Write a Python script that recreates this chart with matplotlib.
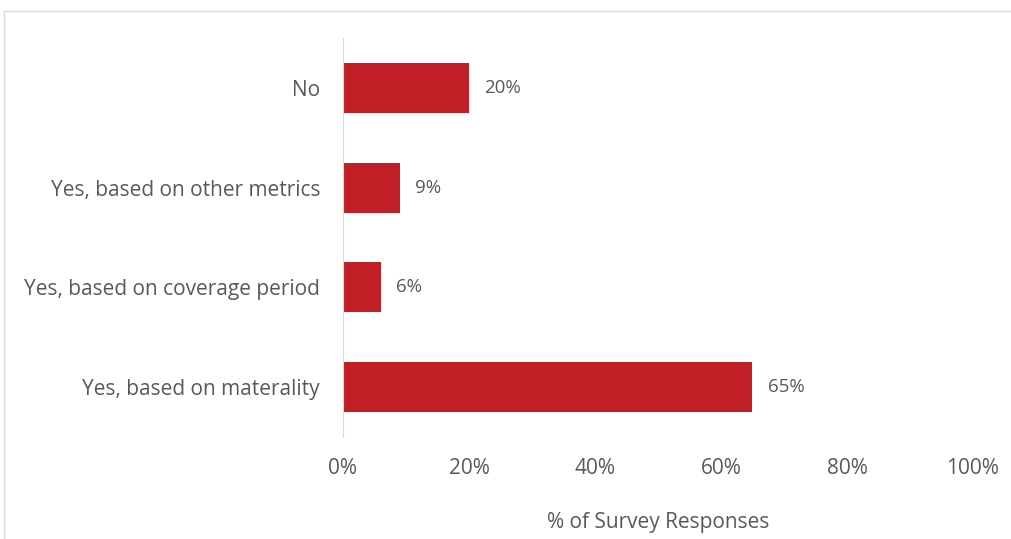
import matplotlib.pyplot as plt
from matplotlib.lines import Line2D

categories = ["Yes, based on materality", "Yes, based on coverage period",
              "Yes, based on other metrics", "No"]
values = [65, 6, 9, 20]
x_ticks = [0, 20, 40, 60, 80, 100]

bar_color = "#C01F26"
text_color = "#595959"

plt.rcParams['font.family'] = ['Open Sans', 'DejaVu Sans']

W, H = 1012, 539
fig = plt.figure(figsize=(W / 100, H / 100), dpi=100)
ax = fig.add_axes([343 / W, 1 - 437 / H, (973 - 343) / W, (437 - 38) / H])

y = range(len(categories))
ax.barh(y, values, height=0.5, color=bar_color)

# value labels just right of each bar
for yi, v in zip(y, values):
    ax.text(v + 2.4, yi, f"{v}%", va="center", ha="left", fontsize=13.5, color=text_color)

ax.set_xlim(0, 100)
ax.set_ylim(-0.5, 3.5)
ax.set_yticks(list(y))
ax.set_yticklabels(categories, fontsize=15, color=text_color)
ax.set_xticks(x_ticks)
ax.set_xticklabels([f"{t}%" for t in x_ticks], fontsize=15, color=text_color)
ax.tick_params(axis="both", length=0)
ax.tick_params(axis="y", pad=16.5)
ax.tick_params(axis="x", pad=15)
ax.set_xlabel("% of Survey Responses", fontsize=15, color=text_color, labelpad=24)

for side in ["top", "right", "bottom"]:
    ax.spines[side].set_visible(False)
ax.spines["left"].set_color("#D9D9D9")

# light frame around the chart area
fig.add_artist(Line2D([4 / W, 4 / W], [0, 1 - 11 / H], color="#D9D9D9", lw=1))
fig.add_artist(Line2D([4 / W, 1], [1 - 11 / H, 1 - 11 / H], color="#D9D9D9", lw=1))

fig.savefig("out.png", dpi=100, facecolor="white")
